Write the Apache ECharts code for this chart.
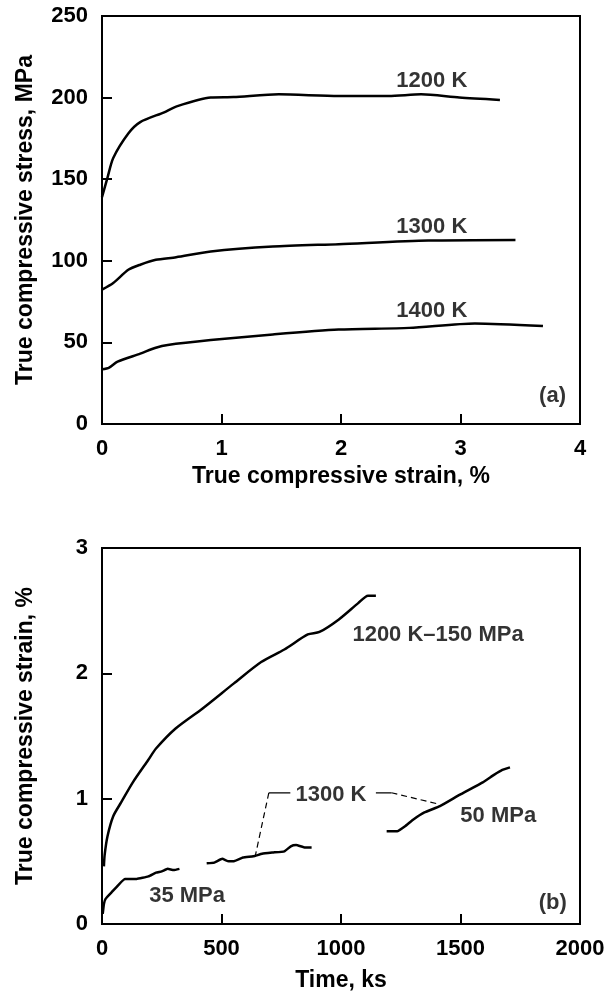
<!DOCTYPE html>
<html>
<head>
<meta charset="utf-8">
<script src="https://cdn.jsdelivr.net/npm/echarts@6/dist/echarts.min.js"></script>
<style>html,body{margin:0;padding:0;background:#fff}#c{width:611px;height:993px}</style>
</head>
<body>
<div id="c"></div>
<script>
// ---- Panel (a): stress vs strain ----
const strainTicks = [0, 1, 2, 3, 4];
const stressTicks = [0, 50, 100, 150, 200, 250];
const curve1200K = [[0,139],[0.046,151],[0.094,163],[0.22,178],[0.32,185],[0.52,191],[0.62,194.5],[0.91,200],[1.1,200.3],[1.48,202],[1.98,201],[2.4,201],[2.67,202],[2.99,200],[3.33,198.6]];
const curve1300K = [[0,82.3],[0.094,86.4],[0.22,94.5],[0.32,97.6],[0.45,100.6],[0.62,102.2],[0.91,105.7],[1.43,108.7],[1.98,110.2],[2.73,112.4],[3.46,112.8]];
const curve1400K = [[0,33.5],[0.06,34.6],[0.13,38.2],[0.32,43.1],[0.45,46.7],[0.55,48.4],[0.91,51.4],[1.43,54.9],[1.98,57.9],[2.57,58.9],[3.12,61.6],[3.69,60]];
const labelsA = [["1200 K", 2.76, 210], ["1300 K", 2.76, 121], ["1400 K", 2.76, 69], ["(a)", 3.77, 17]];

// ---- Panel (b): strain vs time ----
const timeTicks = [0, 500, 1000, 1500, 2000];
const strainBTicks = [0, 1, 2, 3];
const creep1200K150 = [[8,0.46],[11,0.55],[23,0.70],[47,0.86],[80,0.97],[129,1.13],[194,1.31],[226,1.40],[308,1.56],[421,1.72],[552,1.92],[666,2.09],[763,2.19],[861,2.31],[910,2.33],[991,2.43],[1072,2.56],[1113,2.62],[1146,2.62]];
const creep1300K35a = [[3,0.08],[8,0.16],[15,0.2],[39,0.25],[96,0.36],[145,0.36],[194,0.38],[226,0.41],[250,0.42],[275,0.44],[300,0.43],[324,0.44]];
const creep1300K35b = [[438,0.485],[470,0.49],[503,0.52],[530,0.50],[552,0.50],[590,0.53],[633,0.54],[670,0.56],[714,0.57],[763,0.58],[790,0.62],[812,0.63],[850,0.61],[877,0.61]];
const creep1300K50 = [[1191,0.74],[1235,0.74],[1268,0.78],[1300,0.83],[1349,0.89],[1414,0.94],[1496,1.03],[1593,1.13],[1640,1.19],[1675,1.23],[1707,1.25]];
const leaderLeftSolid = [[698,1.047],[788,1.047]];
const leaderLeftDash = [[698,1.047],[641,0.54]];
const leaderRightSolid = [[1146,1.047],[1211,1.047]];
const leaderRightDash = [[1211,1.047],[1414,0.954]];
const labelsB = [["1200 K\u2013150 MPa", 1406, 2.31], ["1300 K", 958, 1.03], ["50 MPa", 1658, 0.86], ["35 MPa", 356, 0.225], ["(b)", 1886, 0.17]];

const FONT = '"Liberation Sans", Arial, sans-serif';
const lineStyle = {color: '#000', width: 2.5};

function lineSeries(data, xi, extra) {
  return Object.assign({
    type: 'line', xAxisIndex: xi, yAxisIndex: xi, data: data,
    showSymbol: false, symbol: 'none', smooth: 0.25,
    lineStyle: lineStyle, itemStyle: {color: '#000'}, animation: false, z: 3
  }, extra || {});
}
function labelSeries(arr, xi) {
  return {
    type: 'scatter', xAxisIndex: xi, yAxisIndex: xi, symbolSize: 0, animation: false, silent: true,
    itemStyle: {color: '#000'},
    data: arr.map(a => ({value: [a[1], a[2]], label: {show: true, formatter: a[0], position: 'inside', color: '#000',
      textBorderWidth: 0, fontFamily: FONT, fontWeight: 'bold', fontSize: 22}})),
    z: 5
  };
}
const labelStyle = {color: '#000', fontFamily: FONT, fontWeight: 'bold', fontSize: 22, formatter: v => String(v)};
const axisCommon = {
  axisLine: {show: true, lineStyle: {color: '#000', width: 2}},
  axisTick: {show: true, inside: true, length: 10, lineStyle: {color: '#000', width: 2}},
  splitLine: {show: false},
  nameTextStyle: {color: '#000', fontFamily: FONT, fontWeight: 'bold', fontSize: 23},
  nameLocation: 'middle'
};
function ax(o, margin) {
  return Object.assign({}, axisCommon, {axisLabel: Object.assign({}, labelStyle, {margin: margin})}, o);
}

const chart = echarts.init(document.getElementById('c'), null, {renderer: 'canvas'});
chart.setOption({
  backgroundColor: '#fff',
  animation: false,
  grid: [
    {left: 102, right: 31, top: 16, height: 408, show: true, borderColor: '#000', borderWidth: 2, backgroundColor: 'transparent'},
    {left: 102, right: 31, top: 548, height: 377, show: true, borderColor: '#000', borderWidth: 2, backgroundColor: 'transparent'}
  ],
  xAxis: [
    ax({gridIndex: 0, type: 'value', min: strainTicks[0], max: strainTicks[strainTicks.length-1], interval: 1,
        name: 'True compressive strain, %', nameGap: 41}, 14),
    ax({gridIndex: 1, type: 'value', min: timeTicks[0], max: timeTicks[timeTicks.length-1], interval: 500,
        name: 'Time, ks', nameGap: 45}, 14)
  ],
  yAxis: [
    ax({gridIndex: 0, type: 'value', min: stressTicks[0], max: stressTicks[stressTicks.length-1], interval: 50,
        name: 'True compressive stress, MPa', nameGap: 65}, 14),
    ax({gridIndex: 1, type: 'value', min: strainBTicks[0], max: strainBTicks[strainBTicks.length-1], interval: 1,
        name: 'True compressive strain, %', nameGap: 65}, 14)
  ],
  series: [
    lineSeries(curve1200K, 0),
    lineSeries(curve1300K, 0),
    lineSeries(curve1400K, 0),
    labelSeries(labelsA, 0),
    lineSeries(creep1200K150, 1),
    lineSeries(creep1300K35a, 1, {smooth: 0.1}),
    lineSeries(creep1300K35b, 1, {smooth: 0.1}),
    lineSeries(creep1300K50, 1, {smooth: 0.1}),
    lineSeries(leaderLeftSolid, 1, {smooth: false, lineStyle: {color: '#000', width: 1.2}}),
    lineSeries(leaderLeftDash, 1, {smooth: false, lineStyle: {color: '#000', width: 1.2, type: [6, 4]}}),
    lineSeries(leaderRightSolid, 1, {smooth: false, lineStyle: {color: '#000', width: 1.2}}),
    lineSeries(leaderRightDash, 1, {smooth: false, lineStyle: {color: '#000', width: 1.2, type: [6, 4]}}),
    labelSeries(labelsB, 1)
  ]
});
</script>
</body>
</html>
